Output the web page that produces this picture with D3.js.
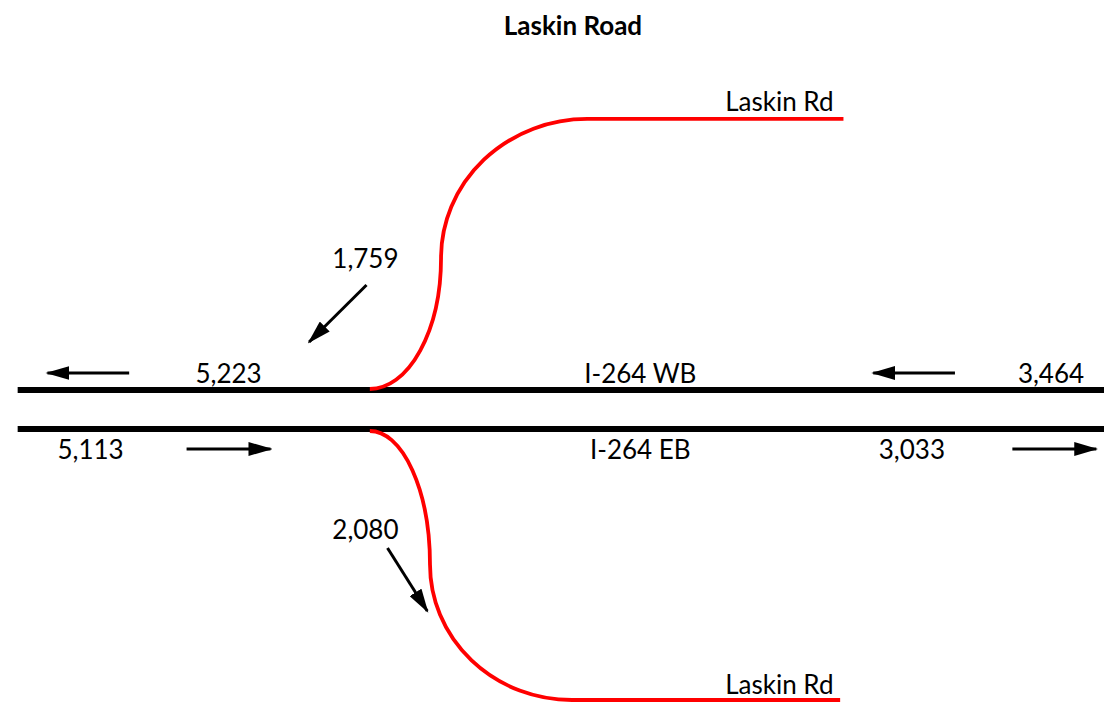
<!DOCTYPE html>
<html>
<head>
<meta charset="utf-8">
<script src="https://cdn.jsdelivr.net/npm/d3@7"></script>
<style>
  body { margin: 0; background: #fff; }
  svg text { font-family: Lato, "Open Sans", sans-serif; fill: #000; }
</style>
</head>
<body>
<div id="chart"></div>
<script>
// Volumes on each leg of the interchange
const mainlineNames = ["I-264 WB", "I-264 EB"];
const mainlineVolumes = [["5,223", "3,464"], ["5,113", "3,033"]];
const rampNames = ["Laskin Rd", "Laskin Rd"];
const rampVolumes = ["1,759", "2,080"];

const width = 1104, height = 706;

// schematic space: x 0..100 along the freeway, y -100..100 across it
const x = d3.scaleLinear().domain([0, 100]).range([0, 1104]);
const y = d3.scaleLinear().domain([-100, 100]).range([0, 706]);

const svg = d3.select("#chart").append("svg")
  .attr("width", width)
  .attr("height", height);

svg.append("defs").append("marker")
  .attr("id", "head")
  .attr("viewBox", "0 0 24 14")
  .attr("refX", 22).attr("refY", 7)
  .attr("markerWidth", 24).attr("markerHeight", 14)
  .attr("markerUnits", "userSpaceOnUse")
  .attr("orient", "auto")
  .append("path").attr("d", "M0,0 L24,7 L0,14 Z").attr("fill", "#000");

svg.append("text")
  .attr("x", x(51.9)).attr("y", 35)
  .attr("text-anchor", "middle")
  .style("font-weight", "bold").style("font-size", "26px")
  .text("Laskin Road");

// freeway lines
const laneY = [y(10.5), y(21.5)];
svg.selectAll(".lane").data(laneY).enter().append("line")
  .attr("x1", x(1.6)).attr("x2", x(100))
  .attr("y1", d => d).attr("y2", d => d)
  .attr("stroke", "#000").attr("stroke-width", 6);

// ramps (quarter ellipses joined into an S)
function rampPath(x0, y0, xm, ym, x1, y1, xe, down) {
  const s1 = down ? 1 : 0, s2 = down ? 0 : 1;
  return "M" + x0 + "," + y0 +
    " A" + (xm - x0) + "," + Math.abs(ym - y0) + " 0 0 " + s1 + " " + xm + "," + ym +
    " A" + (x1 - xm) + "," + Math.abs(y1 - ym) + " 0 0 " + s2 + " " + x1 + "," + y1 +
    " L" + xe + "," + y1;
}
svg.append("path")
  .attr("d", rampPath(x(33.5), y(10.2), x(39.95), y(-26.9), x(53.2), y(-66.3), x(76.4), false))
  .attr("fill", "none").attr("stroke", "#ff0000").attr("stroke-width", 3.8);
svg.append("path")
  .attr("d", rampPath(x(33.5), y(22.1), x(38.95), y(60), x(51.8), y(98.3), x(76.1), true))
  .attr("fill", "none").attr("stroke", "#ff0000").attr("stroke-width", 3.8);

// ramp labels
svg.selectAll(".rampname").data(rampNames).enter().append("text")
  .attr("x", x(75.5))
  .attr("y", (d, i) => i === 0 ? 111 : 694)
  .attr("text-anchor", "end")
  .style("font-size", "26px")
  .text(d => d);

// ramp volumes + arrows
const rampLabelPos = [[x(33.1), 268], [x(33.1), 539]];
svg.selectAll(".rampvol").data(rampVolumes).enter().append("text")
  .attr("x", (d, i) => rampLabelPos[i][0])
  .attr("y", (d, i) => rampLabelPos[i][1])
  .attr("text-anchor", "middle")
  .style("font-size", "26px")
  .text(d => d);
const rampArrows = [[x(33.2), 285, x(28), 342], [x(35.1), 548, x(38.7), 611]];
svg.selectAll(".ramparrow").data(rampArrows).enter().append("line")
  .attr("x1", d => d[0]).attr("y1", d => d[1])
  .attr("x2", d => d[2]).attr("y2", d => d[3])
  .attr("stroke", "#000").attr("stroke-width", 3)
  .attr("marker-end", "url(#head)");

// mainline labels
const rowY = [383, 459];
svg.selectAll(".mainname").data(mainlineNames).enter().append("text")
  .attr("x", x(58))
  .attr("y", (d, i) => rowY[i])
  .attr("text-anchor", "middle")
  .style("font-size", "26px")
  .text(d => d);
const volX = [[x(20.7), x(95.2)], [x(8.2), x(82.6)]];
mainlineVolumes.forEach((row, i) => {
  svg.selectAll(".vol" + i).data(row).enter().append("text")
    .attr("x", (d, j) => volX[i][j])
    .attr("y", rowY[i])
    .attr("text-anchor", "middle")
    .style("font-size", "26px")
    .text(d => d);
});

// direction arrows
const dirArrows = [
  [x(11.7), 373, x(4.3), 373], [x(86.5), 373, x(79.1), 373],
  [x(16.9), 449, x(24.5), 449], [x(91.7), 449, x(99.3), 449]
];
svg.selectAll(".dirarrow").data(dirArrows).enter().append("line")
  .attr("x1", d => d[0]).attr("y1", d => d[1])
  .attr("x2", d => d[2]).attr("y2", d => d[3])
  .attr("stroke", "#000").attr("stroke-width", 3)
  .attr("marker-end", "url(#head)");
</script>
</body>
</html>
